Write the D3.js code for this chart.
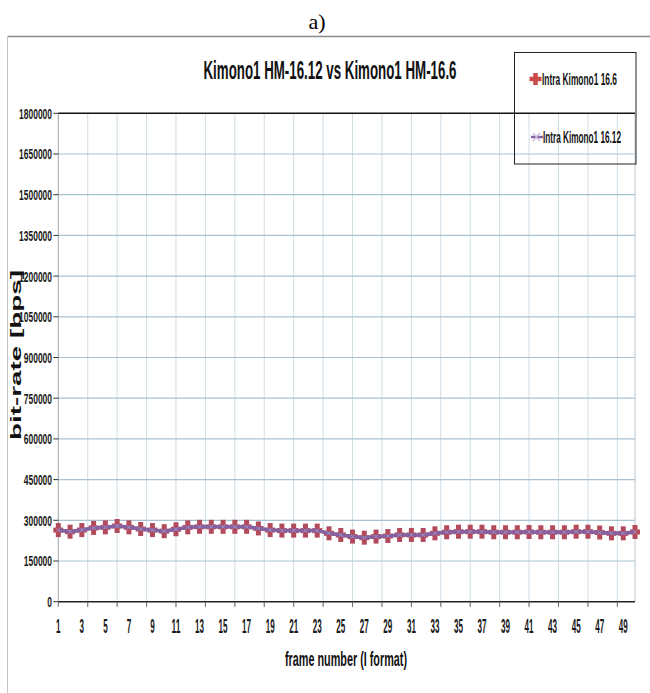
<!DOCTYPE html>
<html>
<head>
<meta charset="utf-8">
<script src="https://cdn.jsdelivr.net/npm/d3@7"></script>
<style>
  html, body { margin: 0; padding: 0; background: #fff; }
  svg { display: block; }
</style>
</head>
<body>
<svg id="chart" width="650" height="693"></svg>
<script>
const frames = [1,2,3,4,5,6,7,8,9,10,11,12,13,14,15,16,17,18,19,20,21,22,23,24,25,26,27,28,29,30,31,32,33,34,35,36,37,38,39,40,41,42,43,44,45,46,47,48,49,50];
const intra166 = [264000,258000,264000,272000,274000,279000,274000,268000,264000,260000,
                  267000,274000,276000,276000,276000,276000,276000,270000,264000,262000,
                  262000,262000,262000,252000,246000,240000,236000,240000,242000,246000,
                  246000,246000,252000,256000,258000,258000,258000,256000,256000,256000,
                  257000,256000,256000,256000,258000,258000,255000,252000,252000,257000];
const intra1612 = [264000,258000,264000,272000,274000,279000,274000,268000,264000,260000,
                  267000,274000,276000,276000,276000,276000,276000,270000,264000,262000,
                  262000,262000,262000,252000,246000,240000,236000,240000,242000,246000,
                  246000,246000,252000,256000,258000,258000,258000,256000,256000,256000,
                  257000,256000,256000,256000,258000,258000,255000,252000,252000,257000];
const yTicks = [0,150000,300000,450000,600000,750000,900000,1050000,1200000,1350000,1500000,1650000,1800000];
const xTickLabels = [1,3,5,7,9,11,13,15,17,19,21,23,25,27,29,31,33,35,37,39,41,43,45,47,49];
const xGridFrames = [3.5,6,8.5,11,13.5,16,18.5,21,23.5,26,28.5,31,33.5,36,38.5,41,43.5,46,48.5];
const seriesNames = ["Intra Kimono1 16.6", "Intra Kimono1 16.12"];
const chartTitle = "Kimono1 HM-16.12 vs Kimono1 HM-16.6";
const panelLabel = "a)";
const xTitle = "frame number (I format)";
const yTitle = "bit-rate [bps]";

const svg = d3.select("#chart");
const narrow = "'Liberation Sans Narrow', 'Liberation Sans', Arial, sans-serif";

const x = d3.scaleLinear().domain([1, 50]).range([58.3, 635]);
const y = d3.scaleLinear().domain([0, 1800000]).range([601.7, 113.3]);

const RED = "#b24a5c", PURPLE = "#8462a2", LAV = "#c7b6dc";

// outer frame
svg.append("line").attr("x1", 7.5).attr("x2", 650).attr("y1", 36.5).attr("y2", 36.5)
  .attr("stroke", "#8a8a8a").attr("stroke-width", 1.5);
svg.append("line").attr("x1", 7.5).attr("x2", 7.5).attr("y1", 36.5).attr("y2", 693)
  .attr("stroke", "#c4c4c4").attr("stroke-width", 1);

// panel label
svg.append("text").attr("x", 317).attr("y", 29).attr("text-anchor", "middle")
  .attr("font-family", "'Liberation Serif', 'Times New Roman', serif").attr("font-size", 22)
  .attr("fill", "#000").text(panelLabel);

// title
svg.append("text").attr("x", 330).attr("y", 79).attr("text-anchor", "middle")
  .attr("font-family", narrow).attr("font-weight", "bold").attr("font-size", 26).attr("fill", "#111")
  .attr("textLength", 253).attr("lengthAdjust", "spacingAndGlyphs").text(chartTitle);

// vertical gridlines
svg.append("g").selectAll("line").data(xGridFrames).join("line")
  .attr("x1", d => x(d)).attr("x2", d => x(d))
  .attr("y1", y(1800000)).attr("y2", y(0) + 6)
  .attr("stroke", "#cfdde6").attr("stroke-width", 1);

// horizontal gridlines
svg.append("g").selectAll("line").data(yTicks.filter(d => d > 0 && d < 1800000)).join("line")
  .attr("x1", x(1)).attr("x2", x(50))
  .attr("y1", d => y(d)).attr("y2", d => y(d))
  .attr("stroke", "#a9c3d2").attr("stroke-width", 1.2);

// y axis line and right edge
svg.append("line").attr("x1", x(1)).attr("x2", x(1)).attr("y1", y(1800000)).attr("y2", y(0))
  .attr("stroke", "#9aa6ad").attr("stroke-width", 1);
svg.append("line").attr("x1", x(50)).attr("x2", x(50)).attr("y1", y(1800000)).attr("y2", y(0))
  .attr("stroke", "#b8c4cc").attr("stroke-width", 1);

// top line (1800000) black
svg.append("line").attr("x1", x(1)).attr("x2", x(50)).attr("y1", y(1800000)).attr("y2", y(1800000))
  .attr("stroke", "#111").attr("stroke-width", 1.5);

// x axis
svg.append("line").attr("x1", x(1)).attr("x2", x(50)).attr("y1", y(0)).attr("y2", y(0))
  .attr("stroke", "#222").attr("stroke-width", 1.5);
svg.append("g").selectAll("line").data([1].concat(xGridFrames)).join("line")
  .attr("x1", d => x(d)).attr("x2", d => x(d)).attr("y1", y(0)).attr("y2", y(0) + 5)
  .attr("stroke", "#666").attr("stroke-width", 1);

// y ticks
svg.append("g").selectAll("line").data(yTicks).join("line")
  .attr("x1", x(1) - 5).attr("x2", x(1)).attr("y1", d => y(d)).attr("y2", d => y(d))
  .attr("stroke", "#333").attr("stroke-width", 1);
svg.append("g").selectAll("text").data(yTicks).join("text")
  .attr("x", 52).attr("y", d => y(d)).attr("dy", "0.36em").attr("text-anchor", "end")
  .attr("font-family", narrow).attr("font-weight", "bold").attr("font-size", 15).attr("fill", "#1a1a1a")
  .attr("textLength", d => String(d).length * 4.7).attr("lengthAdjust", "spacingAndGlyphs")
  .text(d => d);

// x tick labels
svg.append("g").selectAll("text").data(xTickLabels).join("text")
  .attr("x", d => x(d)).attr("y", 626).attr("dy", "0.36em").attr("text-anchor", "middle")
  .attr("font-family", narrow).attr("font-weight", "bold").attr("font-size", 20).attr("fill", "#1a1a1a")
  .attr("textLength", d => String(d).length * 4.5).attr("lengthAdjust", "spacingAndGlyphs")
  .text(d => d);

// axis titles
svg.append("text").attr("x", 346).attr("y", 666).attr("text-anchor", "middle")
  .attr("font-family", narrow).attr("font-weight", "bold").attr("font-size", 21).attr("fill", "#111")
  .attr("textLength", 122).attr("lengthAdjust", "spacingAndGlyphs").text(xTitle);
svg.append("text").attr("transform", "translate(20.5,355) rotate(-90)").attr("text-anchor", "middle")
  .attr("font-family", "'Liberation Sans', Arial, sans-serif").attr("font-weight", "bold")
  .attr("font-size", 15).attr("fill", "#111")
  .attr("textLength", 170).attr("lengthAdjust", "spacingAndGlyphs").text(yTitle);

// series
const line166 = d3.line().x((d, i) => x(frames[i])).y(d => y(d));
svg.append("path").datum(intra166).attr("d", line166)
  .attr("fill", "none").attr("stroke", RED).attr("stroke-width", 3);

function plus(g, cx, cy, w, h, t, color) {
  g.append("rect").attr("x", cx - t / 2).attr("y", cy - h / 2).attr("width", t).attr("height", h).attr("fill", color);
  g.append("rect").attr("x", cx - w / 2).attr("y", cy - t / 2).attr("width", w).attr("height", t).attr("fill", color);
}
const mk = svg.append("g");
intra166.forEach((v, i) => plus(mk, x(frames[i]), y(v), 10, 14, 5, RED));

svg.append("path").datum(intra1612).attr("d", d3.line().x((d, i) => x(frames[i])).y(d => y(d)))
  .attr("fill", "none").attr("stroke", PURPLE).attr("stroke-width", 3.5).attr("stroke-linejoin", "round");

svg.append("g").selectAll("path").data(intra1612).join("path")
  .attr("d", (d, i) => {
    const cx = x(frames[i]), cy = y(d), r = 2;
    return `M${cx - r},${cy - r}L${cx + r},${cy + r}M${cx - r},${cy + r}L${cx + r},${cy - r}`;
  })
  .attr("stroke", LAV).attr("stroke-width", 1).attr("opacity", 0.5);

// legend
const lg = svg.append("g");
lg.append("rect").attr("x", 514.5).attr("y", 52.5).attr("width", 121.5).attr("height", 111.5)
  .attr("fill", "none").attr("stroke", "#222").attr("stroke-width", 1);
plus(lg, 535.5, 79, 12, 12, 4.5, "#cc4a4a");
lg.append("text").attr("x", 542).attr("y", 79).attr("dy", "0.36em")
  .attr("font-family", narrow).attr("font-weight", "bold").attr("font-size", 16).attr("fill", "#111")
  .attr("textLength", 75).attr("lengthAdjust", "spacingAndGlyphs").text(seriesNames[0]);
lg.append("line").attr("x1", 531).attr("x2", 543).attr("y1", 137).attr("y2", 137)
  .attr("stroke", PURPLE).attr("stroke-width", 2.5);
lg.append("path").attr("d", "M533,133L540,141M533,141L540,133")
  .attr("stroke", LAV).attr("stroke-width", 1.2);
lg.append("text").attr("x", 543).attr("y", 137).attr("dy", "0.36em")
  .attr("font-family", narrow).attr("font-weight", "bold").attr("font-size", 16).attr("fill", "#111")
  .attr("textLength", 78).attr("lengthAdjust", "spacingAndGlyphs").text(seriesNames[1]);
</script>
</body>
</html>
